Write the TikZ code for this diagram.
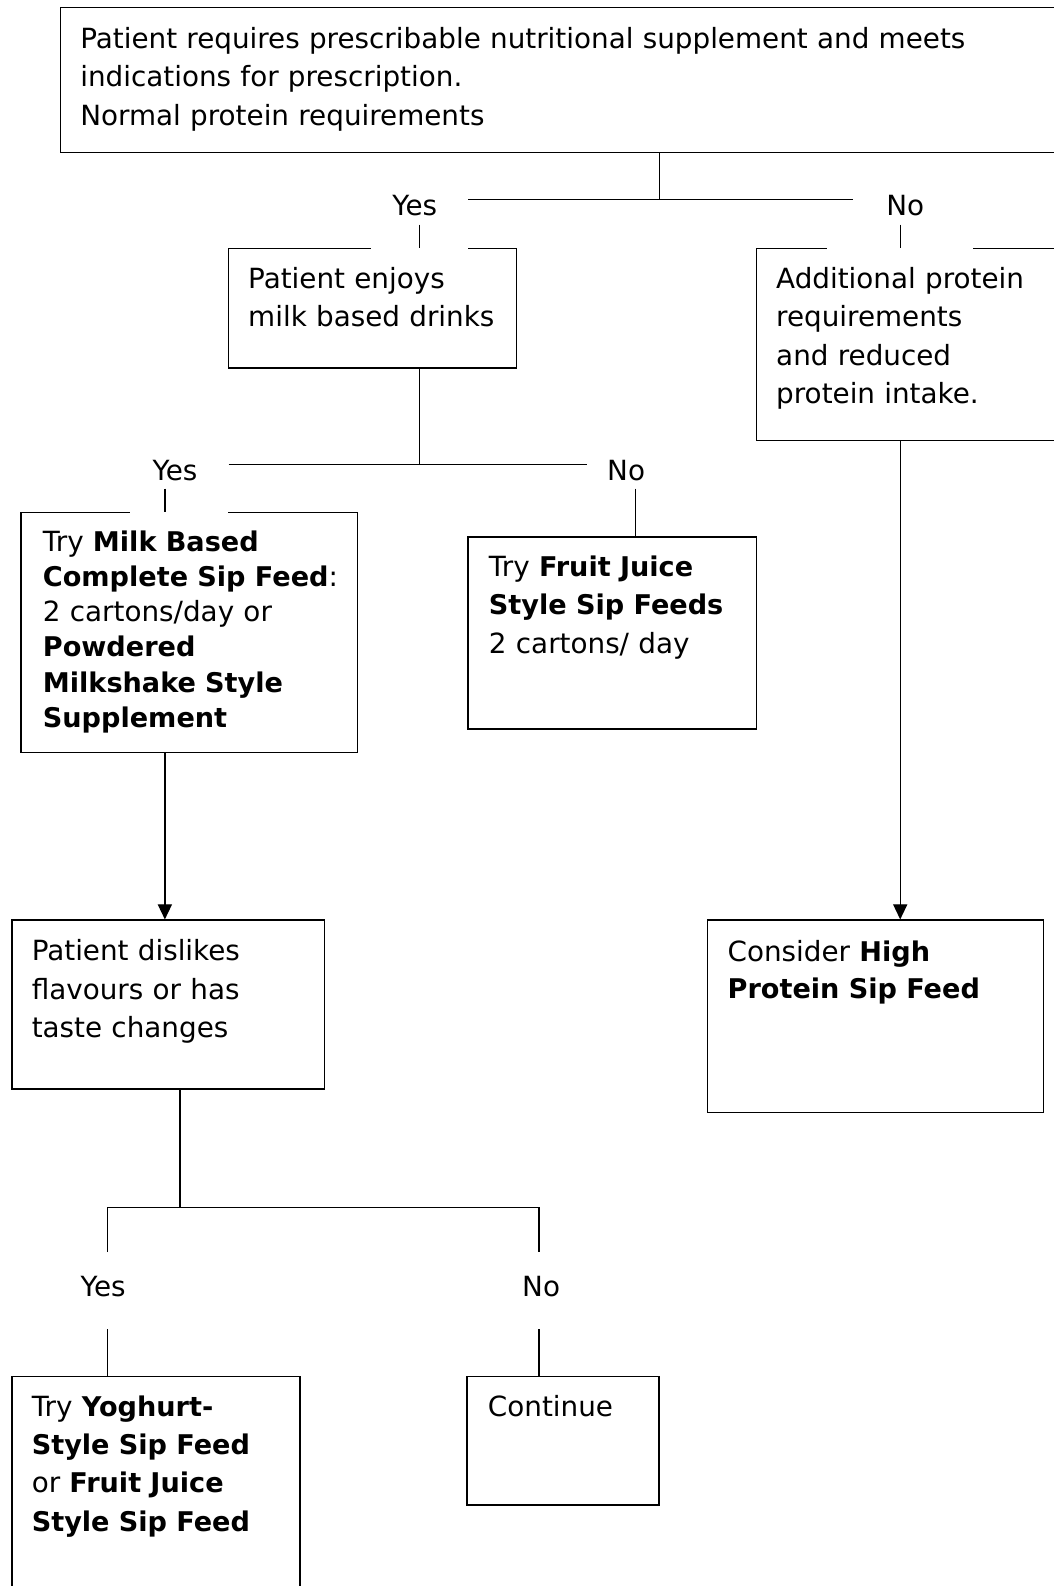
\documentclass[tikz,border=0pt]{standalone}
\usepackage{fontspec}
\setmainfont{DejaVu Sans}[BoldFeatures={Scale=0.975}]
\usetikzlibrary{arrows.meta}
\begin{document}
\begin{tikzpicture}[x=0.5pt,y=-0.5pt,
  box/.style={draw, line width=0.7pt, inner sep=0pt, anchor=north west},
  txt/.style={anchor=base west, inner sep=0pt, text width=#1, align=left,
    font=\fontsize{13.75}{19}\selectfont},
  txt/.default=240pt,
  lbl/.style={anchor=base, inner sep=0pt, font=\fontsize{13.75}{19}\selectfont},
  gapmask/.style={fill=white, inner sep=0pt, minimum height=3pt},
  ln/.style={line width=0.7pt},
  arr/.style={line width=0.7pt, -{Triangle[width=7pt,length=7.5pt]}}]
\clip (0,0) rectangle (1042,1568);
\fill[white] (0,0) rectangle (1042,1568);
% boxes
\node[box, minimum width=510pt, minimum height=71.5pt] (top) at (59,7) {};
\node[box, minimum width=142.5pt, minimum height=59pt] (enjoys) at (225,245) {};
\node[box, minimum width=170pt, minimum height=95pt] (addl) at (747,245) {};
\node[box, minimum width=166.5pt, minimum height=118.5pt] (milk) at (20,506) {};
\node[box, minimum width=142.5pt, minimum height=95pt] (fruit) at (462,530) {};
\node[box, minimum width=154.5pt, minimum height=83.5pt] (dis) at (11,909) {};
\node[box, minimum width=166pt, minimum height=95pt] (cons) at (699,909) {};
\node[box, minimum width=142.5pt, minimum height=130pt] (yog) at (11,1360) {};
\node[box, minimum width=95pt, minimum height=63.5pt] (cont) at (461,1360) {};
% gaps in box tops under labels
\node[gapmask, minimum width=48pt] (g1) at (415,245) {};
\node[gapmask, minimum width=72pt] (g2) at (890,245) {};
\node[gapmask, minimum width=48pt] (g3) at (177,506) {};
% texts
\node[txt=480pt] (ttop) at (79,48) {Patient requires prescribable nutritional supplement and meets\\indications for prescription.\\Normal protein requirements};
\node[txt] (tenjoys) at (245,285) {Patient enjoys\\milk based drinks};
\node[txt] (taddl) at (767,285) {Additional protein\\requirements\\and reduced\\protein intake.};
\node[txt, font=\fontsize{13.75}{17.4}\selectfont] (tmilk) at (42,545) {Try \textbf{Milk Based}\\\textbf{Complete Sip Feed}:\\2 cartons/day or\\\textbf{Powdered}\\\textbf{Milkshake Style}\\\textbf{Supplement}};
\node[txt] (tfruit) at (483,570) {Try \textbf{Fruit Juice}\\\textbf{Style Sip Feeds}\\2 cartons/ day};
\node[txt] (tdis) at (31,950) {Patient dislikes\\flavours or has\\taste changes};
\node[txt, font=\fontsize{13.75}{18}\selectfont] (tcons) at (719,951) {Consider \textbf{High}\\\textbf{Protein Sip Feed}};
\node[txt] (tyog) at (31,1400) {Try \textbf{Yoghurt-}\\\textbf{Style Sip Feed}\\or \textbf{Fruit Juice}\\\textbf{Style Sip Feed}};
\node[txt] (tcont) at (482,1400) {Continue};
% level 1
\coordinate (j1) at (652,197);
\coordinate (h1l) at (463,197);
\coordinate (h1r) at (843,197);
\draw[ln] (top.south -| j1) -- (j1);
\draw[ln] (h1l) -- (h1r);
\node[lbl] (yes1) at (410,213) {Yes};
\node[lbl] (no1) at (895,213) {No};
\coordinate (s1) at (415,222);
\coordinate (s2) at (890,222);
\draw[ln] (s1) -- (s1 |- enjoys.north);
\draw[ln] (s2) -- (s2 |- addl.north);
% level 2
\coordinate (j2) at (415,459);
\coordinate (h2l) at (226,459);
\coordinate (h2r) at (580,459);
\draw[ln] (j2 |- enjoys.south) -- (j2);
\draw[ln] (h2l) -- (h2r);
\node[lbl] (yes2) at (173,475) {Yes};
\node[lbl] (no2) at (619,475) {No};
\coordinate (s3) at (163,483);
\coordinate (s4) at (628,483);
\draw[ln] (s3) -- (s3 |- milk.north);
\draw[ln] (s4) -- (s4 |- fruit.north);
% arrows
\coordinate (a1) at (163,743);
\coordinate (a2) at (890,435);
\draw[arr] (a1 |- milk.south) -- (a1 |- dis.north);
\draw[arr] (a2 |- addl.south) -- (a2 |- cons.north);
% level 3
\coordinate (j3) at (178,1194);
\coordinate (d3l) at (106,1238);
\coordinate (d3r) at (533,1238);
\draw[ln] (j3 |- dis.south) -- (j3);
\draw[ln] (d3l) -- (d3l |- j3) -- (d3r |- j3) -- (d3r);
\node[lbl] (yes3) at (102,1282) {Yes};
\node[lbl] (no3) at (535,1282) {No};
\coordinate (s5) at (106,1314);
\coordinate (s6) at (533,1314);
\draw[ln] (s5) -- (s5 |- yog.north);
\draw[ln] (s6) -- (s6 |- cont.north);
\end{tikzpicture}
\end{document}
